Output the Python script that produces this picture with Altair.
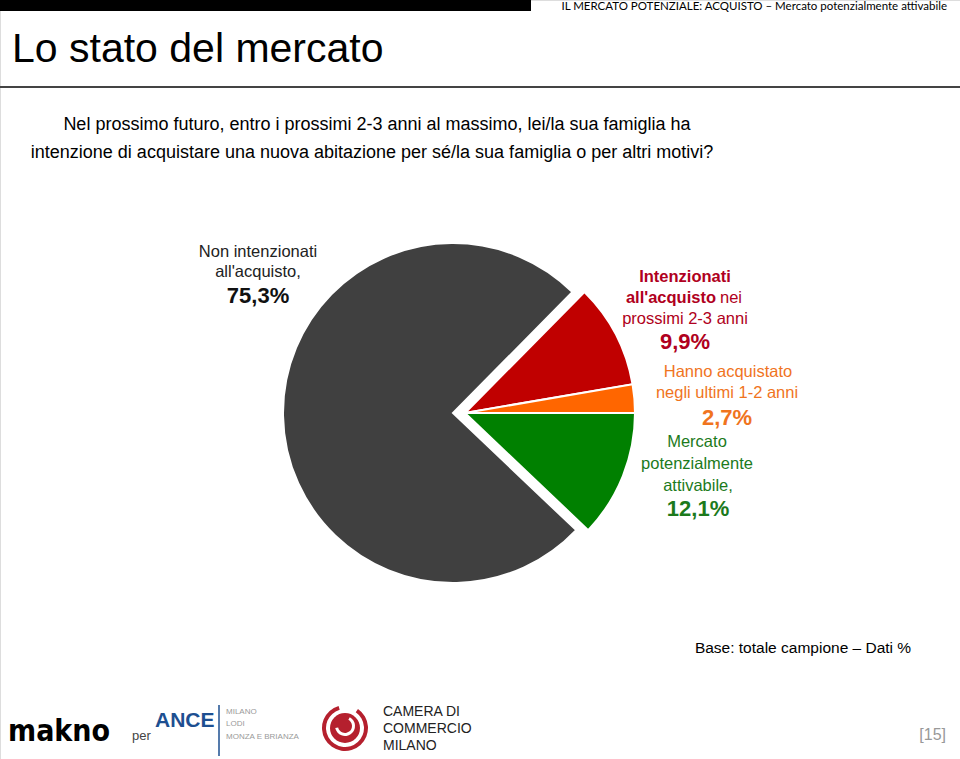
import math
import altair as alt
import pandas as pd

# ---- data ----
categories = ["Intenzionati all'acquisto", "Hanno acquistato", "Mercato potenzialmente attivabile", "Non intenzionati"]
values = [9.9, 2.7, 12.1, 75.3]
orders = [1, 2, 3, 4]
slice_colors = ["#C00000", "#FF6600", "#008000", "#404040"]

title_text = "Lo stato del mercato"
header_text = "IL MERCATO POTENZIALE: ACQUISTO \u2013 Mercato potenzialmente attivabile"
question_lines = [
    "Nel prossimo futuro, entro i prossimi 2-3 anni al massimo, lei/la sua famiglia ha",
    "intenzione di acquistare una nuova abitazione per s\u00e9/la sua famiglia o per altri motivi?",
]
left_label = ["Non intenzionati", "all'acquisto,", "75,3%"]
red_label = ["Intenzionati", "all'acquisto", "nei", "prossimi 2-3 anni", "9,9%"]
orange_label = ["Hanno acquistato", "negli ultimi 1-2 anni", "2,7%"]
green_label = ["Mercato", "potenzialmente", "attivabile,", "12,1%"]
base_text = "Base: totale campione \u2013 Dati %"
page_text = "[15]"

df = pd.DataFrame({"cat": categories, "value": values, "order": orders})

FONT = "Liberation Sans"
W, H = 960, 759
CX, CY, R = 453, 413, 170

start = math.pi / 2 - 2 * math.pi * (values[0] + values[1]) / 100
theta_scale = alt.Scale(domain=[0, 100], range=[start, start + 2 * math.pi])
color_scale = alt.Scale(domain=categories, range=slice_colors)

pie_base = alt.Chart(df).transform_stack(
    stack="value", groupby=[], as_=["v0", "v1"], sort=[alt.SortField("order")]
)

def pie_layer(filter_expr, xoff):
    return pie_base.transform_filter(filter_expr).mark_arc(
        radius=R, stroke="white", strokeWidth=2, xOffset=xoff
    ).encode(
        theta=alt.Theta("v0:Q", scale=theta_scale),
        theta2="v1:Q",
        color=alt.Color("cat:N", scale=color_scale, legend=None),
        x=alt.value(CX),
        y=alt.value(CY),
    )

gray = pie_layer("datum.order == 4", 0)
colored = pie_layer("datum.order != 4", 12)

blank = alt.Chart(pd.DataFrame({"k": [0]}))

def txt(text, x, y, size=16, color="#000000", weight="normal", align="center", font=FONT, baseline="middle"):
    return blank.mark_text(
        text=text, fontSize=size, color=color, fontWeight=weight, align=align,
        font=font, baseline=baseline
    ).encode(x=alt.value(x), y=alt.value(y))

layers = []
# top bar and separator
layers.append(blank.mark_rect(color="#000000").encode(
    x=alt.value(0), x2=alt.value(531), y=alt.value(0), y2=alt.value(11)))
layers.append(blank.mark_rule(color="#444444", strokeWidth=2).encode(
    x=alt.value(0), x2=alt.value(960), y=alt.value(87)))
layers.append(txt(header_text, 947, 7, size=11.5, color="#000000", align="right", font="Lato"))
layers.append(txt(title_text, 12, 50, size=41, align="left"))
layers.append(txt(question_lines[0], 377, 125, size=18))
layers.append(txt(question_lines[1], 372, 153, size=18))

layers += [gray, colored]

# left label
layers.append(txt(left_label[0], 258, 252, size=16.5, color="#222222"))
layers.append(txt(left_label[1], 258, 272, size=16.5, color="#222222"))
layers.append(txt(left_label[2], 258, 296, size=22, color="#111111", weight="bold"))
# red label
RED_T = "#B00020"
layers.append(txt(red_label[0], 685, 277, size=16.5, color=RED_T, weight="bold"))
layers.append(txt(red_label[1], 716, 298, size=16.5, color=RED_T, weight="bold", align="right"))
layers.append(txt(red_label[2], 720, 298, size=16.5, color=RED_T, align="left"))
layers.append(txt(red_label[3], 685, 319, size=16.5, color=RED_T))
layers.append(txt(red_label[4], 685, 342, size=22, color=RED_T, weight="bold"))
# orange label
OR_T = "#F0741E"
layers.append(txt(orange_label[0], 728, 372, size=16.5, color=OR_T))
layers.append(txt(orange_label[1], 727, 393, size=16.5, color=OR_T))
layers.append(txt(orange_label[2], 727, 418, size=22, color=OR_T, weight="bold"))
# green label
GR_T = "#1C7A1C"
layers.append(txt(green_label[0], 697, 442, size=16.5, color=GR_T))
layers.append(txt(green_label[1], 697, 464, size=16.5, color=GR_T))
layers.append(txt(green_label[2], 698, 486, size=16.5, color=GR_T))
layers.append(txt(green_label[3], 698, 509, size=22, color=GR_T, weight="bold"))

# footer
layers.append(txt(base_text, 803, 648, size=15.5))
layers.append(txt("makno", 8, 732, size=30, weight="bold", align="left", font="DejaVu Sans Condensed"))
layers.append(txt("per", 132, 736, size=13, color="#444444", align="left"))
layers.append(txt("ANCE", 155, 721, size=21, color="#1D4F91", weight="bold", align="left"))
layers.append(blank.mark_rule(color="#1D4F91", strokeWidth=1.5).encode(
    x=alt.value(219), y=alt.value(705), y2=alt.value(756)))
layers.append(txt("MILANO", 226, 712, size=8, color="#9A9A9A", align="left"))
layers.append(txt("LODI", 226, 724, size=8, color="#9A9A9A", align="left"))
layers.append(txt("MONZA E BRIANZA", 226, 737, size=8, color="#9A9A9A", align="left"))
# Camera di commercio medallion
layers.append(blank.mark_arc(color="#B5202E", radius=23, radius2=19, theta=0.6, theta2=6.0).encode(
    x=alt.value(345), y=alt.value(728)))
layers.append(blank.mark_arc(color="#B5202E", radius=15, radius2=0, theta=0, theta2=6.2832).encode(
    x=alt.value(345), y=alt.value(728)))
layers.append(blank.mark_arc(color="white", radius=10, radius2=7, theta=0.5, theta2=4.5).encode(
    x=alt.value(345), y=alt.value(726)))
layers.append(txt("CAMERA DI", 383, 712, size=14, color="#222222", align="left"))
layers.append(txt("COMMERCIO", 383, 729, size=14, color="#222222", align="left"))
layers.append(txt("MILANO", 383, 746, size=14, color="#222222", align="left"))
layers.append(txt(page_text, 946, 735, size=16, color="#999999", align="right"))

chart = alt.layer(*layers).properties(
    width=W, height=H, autosize=alt.AutoSizeParams(type="none"), padding=0
).configure_view(stroke=None).configure(background="white")

chart.save("out.html", embed_options={"renderer": "svg", "actions": False})
